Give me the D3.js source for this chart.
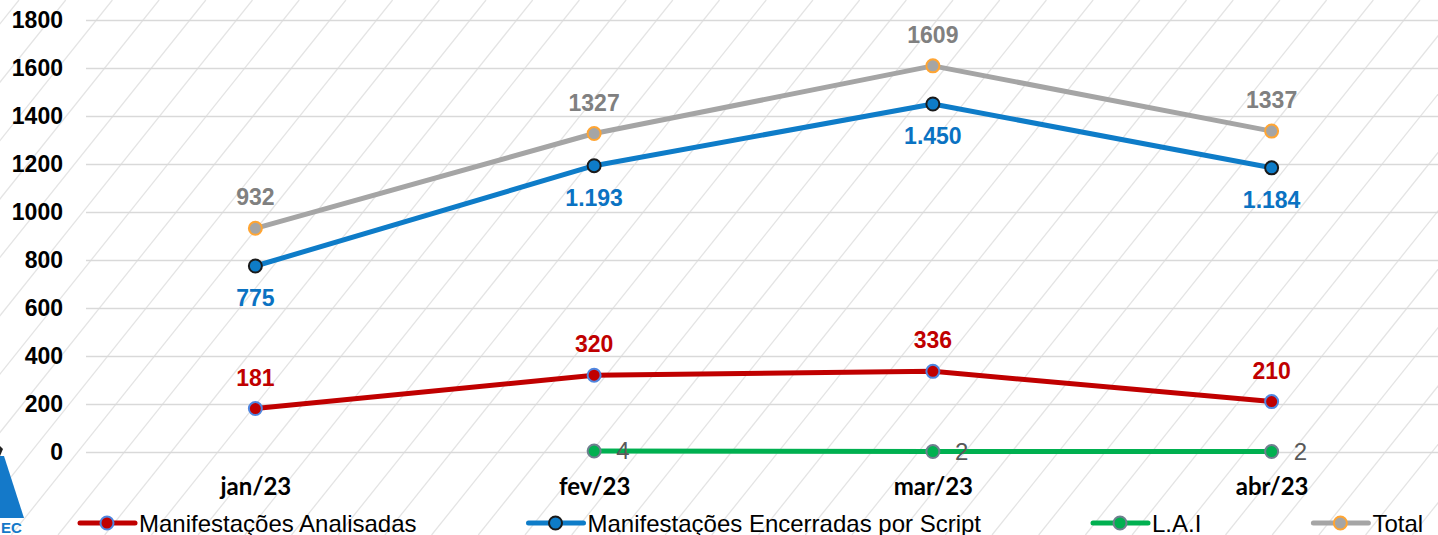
<!DOCTYPE html>
<html>
<head>
<meta charset="utf-8">
<script src="https://cdn.jsdelivr.net/npm/d3@7"></script>
<style>
  html, body { margin: 0; padding: 0; background: #fff; }
  svg { display: block; }
</style>
</head>
<body>
<svg id="chart" width="1438" height="535"></svg>
<script>
// ---- data ----
const categories = ["jan/23", "fev/23", "mar/23", "abr/23"];
const analisadas = [181, 320, 336, 210];
const encerradas = [775, 1193, 1450, 1184];
const lai = [null, 4, 2, 2];
const total = [932, 1327, 1609, 1337];
const yTicks = [0, 200, 400, 600, 800, 1000, 1200, 1400, 1600, 1800];
const seriesNames = ["Manifestações Analisadas", "Manifestações Encerradas por Script", "L.A.I", "Total"];

const W = 1438, H = 535;
const svg = d3.select("#chart");

// background hatching
const hatch = svg.append("g");
const hs = 46.7, slope = 0.8, hx0 = 19;
for (let k = -2; k < 45; k++) {
  const x = hx0 + k * hs;
  hatch.append("line")
    .attr("x1", x).attr("y1", 0)
    .attr("x2", x - slope * H).attr("y2", H)
    .attr("stroke", "#e4e4e4").attr("stroke-width", 1.3);
}

// logo fragment bottom-left
svg.append("path").attr("d", "M0,456 L4,456 L24,518 L0,518 Z").attr("fill", "#1479c9");
svg.append("path").attr("d", "M0,446 L3,449 L0,456 Z").attr("fill", "#222");
svg.append("text").attr("x", 1).attr("y", 533).text("EC")
  .attr("font-family", "Liberation Sans, Arial, sans-serif").attr("font-weight", "bold")
  .attr("font-size", 15).attr("fill", "#1479c9");

// scales
const x = d3.scalePoint().domain(categories).range([86, 1441]).padding(0.5);
const y = d3.scaleLinear().domain([0, 1800]).range([452, 20]);

// y axis + gridlines
const yAxis = svg.append("g").attr("transform", "translate(86,0)")
  .call(d3.axisLeft(y).tickValues(yTicks).tickSize(-(W - 86)).tickPadding(23).tickFormat(d3.format("d")));
yAxis.select(".domain").remove();
yAxis.selectAll(".tick line").attr("stroke", "#d9d9d9").attr("stroke-width", 1.5);
yAxis.selectAll(".tick text")
  .attr("font-family", "Liberation Sans, Arial, sans-serif")
  .attr("font-weight", "bold").attr("font-size", 23).attr("fill", "#000");

// x axis labels
const xAxis = svg.append("g").attr("transform", "translate(0,452)")
  .call(d3.axisBottom(x).tickSize(0).tickPadding(26));
xAxis.select(".domain").remove();
xAxis.selectAll(".tick text")
  .attr("font-family", "Lato, 'Open Sans', sans-serif")
  .attr("font-weight", "bold").attr("font-size", 24).attr("fill", "#000");

const series = [
  { name: seriesNames[0], values: analisadas, line: "#C00000", fill: "#C00000", stroke: "#4f86e0",
    label: { color: "#C00000", dy: -23, anchor: "middle", dx: 0, weight: "bold", fmt: d3.format("d") } },
  { name: seriesNames[1], values: encerradas, line: "#0E7CC8", fill: "#0E7CC8", stroke: "#1a1a1a",
    label: { color: "#0A72C2", dy: 40, anchor: "middle", dx: 0, weight: "bold", fmt: v => d3.format(",")(v).replace(/,/g, ".") } },
  { name: seriesNames[2], values: lai, line: "#00B050", fill: "#00B050", stroke: "#6f7f8f",
    label: { color: "#595959", dy: 8, anchor: "start", dx: 22, weight: "normal", fmt: d3.format("d") } },
  { name: seriesNames[3], values: total, line: "#A5A5A5", fill: "#A5A5A5", stroke: "#FFA533",
    label: { color: "#808080", dy: -23, anchor: "middle", dx: 0, weight: "bold", fmt: d3.format("d") } }
];

const lineGen = d3.line()
  .defined(d => d.v !== null)
  .x(d => x(d.c)).y(d => y(d.v));

// draw order: Total behind, then others
const drawOrder = [3, 1, 0, 2];
drawOrder.forEach(i => {
  const s = series[i];
  const pts = categories.map((c, j) => ({ c, v: s.values[j] }));
  const g = svg.append("g");
  g.append("path").datum(pts).attr("d", lineGen)
    .attr("fill", "none").attr("stroke", s.line).attr("stroke-width", 5)
    .attr("stroke-linejoin", "round");
  g.selectAll("circle").data(pts.filter(d => d.v !== null)).join("circle")
    .attr("cx", d => x(d.c)).attr("cy", d => y(d.v)).attr("r", 6.5)
    .attr("fill", s.fill).attr("stroke", s.stroke).attr("stroke-width", 2);
});
drawOrder.forEach(i => {
  const s = series[i];
  const pts = categories.map((c, j) => ({ c, v: s.values[j] })).filter(d => d.v !== null);
  svg.append("g").selectAll("text").data(pts).join("text")
    .attr("x", d => x(d.c) + s.label.dx).attr("y", d => y(d.v) + s.label.dy)
    .attr("text-anchor", s.label.anchor)
    .attr("font-family", "Liberation Sans, Arial, sans-serif")
    .attr("font-weight", s.label.weight)
    .attr("font-size", s.label.weight === "bold" ? 23 : 24)
    .attr("fill", s.label.color)
    .text(d => s.label.fmt(d.v));
});

// legend
const legend = svg.append("g").attr("transform", "translate(0,523)");
let lx = 80;
series.forEach(s => {
  const g = legend.append("g").attr("transform", `translate(${lx},0)`);
  g.append("line").attr("x1", 0).attr("x2", 55).attr("y1", 0).attr("y2", 0)
    .attr("stroke", s.line).attr("stroke-width", 5).attr("stroke-linecap", "round");
  g.append("circle").attr("cx", 27).attr("cy", 0).attr("r", 6.5)
    .attr("fill", s.fill).attr("stroke", s.stroke).attr("stroke-width", 2);
  const t = g.append("text").attr("x", 59).attr("y", 8.5)
    .attr("font-family", "Liberation Sans, Arial, sans-serif")
    .attr("font-size", 24).attr("fill", "#000").text(s.name);
  lx += 59 + t.node().getComputedTextLength() + 112;
});
</script>
</body>
</html>
